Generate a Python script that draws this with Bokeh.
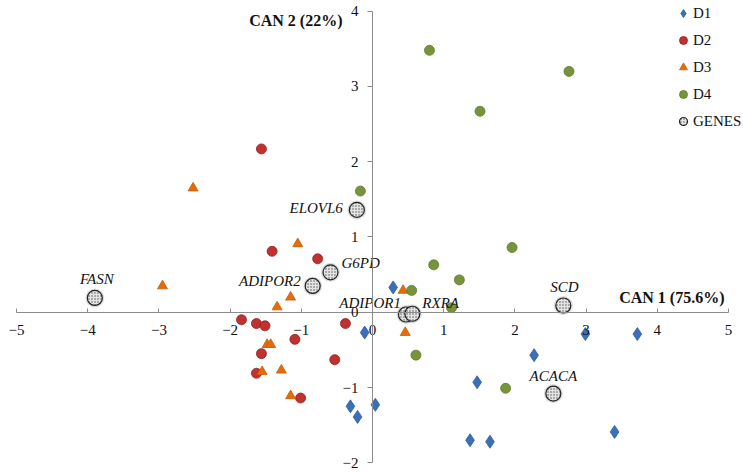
from bokeh.plotting import figure
from bokeh.models import (LinearAxis, FixedTicker, Range1d, Legend, LegendItem,
                          Label, ColumnDataSource)
from bokeh.core.properties import value
from bokeh.embed import file_html
from bokeh.resources import INLINE

# ---------------- data ----------------
d1_x = [0.29, -0.11, 2.99, 3.72, 2.27, 1.47, 0.04, -0.31, -0.21, 1.37, 1.65, 3.40]
d1_y = [0.33, -0.27, -0.29, -0.29, -0.57, -0.93, -1.23, -1.25, -1.39, -1.70, -1.72, -1.59]

d2_x = [-1.56, -1.41, -0.77, -1.84, -1.63, -1.51, -0.38, -1.09, -1.56, -0.53, -1.63, -1.01]
d2_y = [2.17, 0.81, 0.71, -0.10, -0.15, -0.18, -0.15, -0.36, -0.55, -0.63, -0.81, -1.14]

d3_x = [-2.52, -1.05, -2.95, -1.15, -1.34, -1.48, -1.43, -1.55, -1.28, -1.15, 0.43, 0.46]
d3_y = [1.65, 0.91, 0.35, 0.20, 0.07, -0.43, -0.43, -0.79, -0.77, -1.11, 0.29, -0.27]

d4_x = [-0.17, 0.80, 2.76, 1.51, 1.96, 0.86, 1.22, 0.55, 1.11, 0.61, 1.87]
d4_y = [1.61, 3.48, 3.20, 2.67, 0.86, 0.63, 0.43, 0.29, 0.06, -0.57, -1.01]

gene_names = ["FASN", "ADIPOR2", "G6PD", "ELOVL6", "ADIPOR1", "RXRA", "SCD", "ACACA"]
gene_x = [-3.90, -0.84, -0.59, -0.22, 0.47, 0.56, 2.68, 2.54]
gene_y = [0.19, 0.35, 0.53, 1.36, -0.03, -0.02, 0.09, -1.08]

x_ticks = [-5, -4, -3, -2, -1, 0, 1, 2, 3, 4, 5]
y_ticks = [-2, -1, 0, 1, 2, 3, 4]

x_title = "CAN 1 (75.6%)"
y_title = "CAN 2 (22%)"
series_names = ["D1", "D2", "D3", "D4", "GENES"]

# ---------------- layout / style ----------------
label_dx = [2, -12, 11, -14, -5, 10, 1, 0]
label_dy = [-19, -5, -9, -2, -12, -11, -18, -18]
label_align = ["center", "right", "left", "right", "right", "left", "center", "center"]

SERIF = "Liberation Serif"
AXIS_COLOR = "#8c8c8c"
BLUE, RED, ORANGE, GREEN = "#3a70b8", "#c0312f", "#e46c0a", "#77933c"

# frame fills the canvas; the axes are bounded to the data extent
p = figure(width=743, height=472, output_backend="svg", toolbar_location=None,
           title=None, x_axis_type=None, y_axis_type=None,
           x_range=Range1d(-5.225, 5.211), y_range=Range1d(-2.129, 4.142),
           min_border=0, min_border_left=0, min_border_right=0,
           min_border_top=0, min_border_bottom=0)
p.outline_line_color = None
p.xgrid.visible = False
p.ygrid.visible = False
p.background_fill_color = "white"

xaxis = LinearAxis(fixed_location=0, bounds=(x_ticks[0], x_ticks[-1]),
                   ticker=FixedTicker(ticks=x_ticks))
xaxis.axis_line_color = AXIS_COLOR
xaxis.major_tick_line_color = AXIS_COLOR
xaxis.major_tick_in = 4
xaxis.major_tick_out = 0
xaxis.minor_tick_line_color = None
xaxis.major_label_standoff = 13
xaxis.major_label_text_font = SERIF
xaxis.major_label_text_font_size = "15px"
xaxis.major_label_text_color = "#111111"
p.add_layout(xaxis, "below")

yaxis = LinearAxis(fixed_location=0, bounds=(y_ticks[0], y_ticks[-1]),
                   ticker=FixedTicker(ticks=y_ticks))
yaxis.axis_line_color = AXIS_COLOR
yaxis.major_tick_line_color = AXIS_COLOR
yaxis.major_tick_in = 0
yaxis.major_tick_out = 5
yaxis.minor_tick_line_color = None
yaxis.major_label_standoff = 9
yaxis.major_label_text_font = SERIF
yaxis.major_label_text_font_size = "15px"
yaxis.major_label_text_color = "#111111"
p.add_layout(yaxis, "left")

r1 = p.scatter(d1_x, d1_y, marker="diamond", size=13, fill_color=BLUE,
               line_color="#2e5c99", line_width=0.8)
r2 = p.scatter(d2_x, d2_y, marker="circle", size=10, fill_color=RED,
               line_color="#8f2322", line_width=0.8)
r3 = p.scatter(d3_x, d3_y, marker="triangle", size=10, fill_color=ORANGE,
               line_color="#c85c06", line_width=0.8)
r4 = p.scatter(d4_x, d4_y, marker="circle", size=10, fill_color=GREEN,
               line_color="#5f7a2c", line_width=0.8)

# genes: soft halo + stippled circle
p.scatter(gene_x, gene_y, marker="circle", size=19, fill_color="#777777",
          fill_alpha=0.25, line_color=None)
r5 = p.scatter(gene_x, gene_y, marker="circle", size=15, fill_color="#e4e4e4",
               line_color="#222222", line_width=1.2,
               hatch_pattern="dot", hatch_color="#555555", hatch_scale=3, hatch_weight=1)

src = ColumnDataSource(dict(x=gene_x, y=gene_y, t=gene_names, dx=label_dx,
                            dy=label_dy, al=label_align))
p.text(x="x", y="y", text="t", x_offset="dx", y_offset="dy", text_align="al",
       source=src, text_baseline="middle", text_font=value(SERIF),
       text_font_style="italic", text_font_size="15px", text_color="#111111")

p.add_layout(Label(x=0, y=4, text=y_title, text_align="right", text_baseline="middle",
                   x_offset=-30, y_offset=-9, text_font=SERIF, text_font_style="bold",
                   text_font_size="16px", text_color="#111111"))
p.add_layout(Label(x=5, y=0, text=x_title, text_align="right", text_baseline="middle",
                   x_offset=-4, y_offset=15, text_font=SERIF, text_font_style="bold",
                   text_font_size="16px", text_color="#111111"))

legend = Legend(items=[LegendItem(label=n, renderers=[r])
                       for n, r in zip(series_names, [r1, r2, r3, r4, r5])],
                location=(673, 341), orientation="vertical")
legend.glyph_width = 20
legend.glyph_height = 20
legend.label_height = 20
legend.spacing = 7
legend.padding = 0
legend.margin = 0
legend.label_standoff = -2
legend.border_line_color = None
legend.background_fill_alpha = 0
legend.label_text_font = SERIF
legend.label_text_font_size = "15px"
legend.label_text_color = "#111111"
p.add_layout(legend, "center")

open("out.html", "w").write(file_html(p, INLINE))
